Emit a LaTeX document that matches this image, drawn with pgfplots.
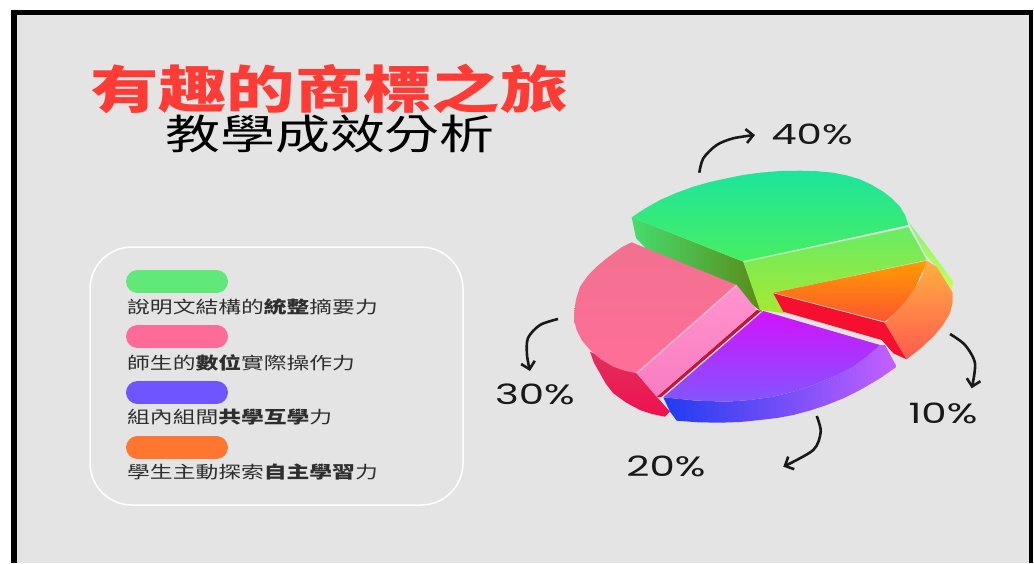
\documentclass[border=0pt]{standalone}
\usepackage{fontspec}
\usepackage{pgfplots}
\pgfplotsset{compat=1.18}
\usetikzlibrary{arrows.meta}
\setmainfont{Noto Sans CJK TC}
\newfontfamily\pct{Poppins}
\newcommand{\wide}[1]{\scalebox{1.34}[1]{#1}}
\newcommand{\widep}[1]{\scalebox{1.44}[1]{#1}}
\newcommand{\bb}[1]{\textbf{#1}}

\definecolor{bgray}{HTML}{E4E4E4}
\definecolor{pgreen}{HTML}{60E878}
\definecolor{ppink}{HTML}{FF6B98}
\definecolor{pblue}{HTML}{6E55FF}
\definecolor{porange}{HTML}{FF7630}
\definecolor{titlered}{HTML}{FF3B35}
\definecolor{gA}{HTML}{1CE59C}
\definecolor{gB}{HTML}{0CE880}
\definecolor{gC}{HTML}{48EE60}
\definecolor{gD}{HTML}{66EC66}
\definecolor{gE}{HTML}{A8E832}
\definecolor{gF}{HTML}{45DD6E}
\definecolor{gG}{HTML}{5A8A18}
\definecolor{gH}{HTML}{80F47A}
\definecolor{gI}{HTML}{C8FF50}
\definecolor{kA}{HTML}{F27090}
\definecolor{kB}{HTML}{FF82A8}
\definecolor{kC}{HTML}{FF6F98}
\definecolor{kD}{HTML}{FF93CF}
\definecolor{kE}{HTML}{F87DC0}
\definecolor{kF}{HTML}{E0305C}
\definecolor{kG}{HTML}{F01050}
\definecolor{kH}{HTML}{C01838}
\definecolor{vA}{HTML}{D212FF}
\definecolor{vB}{HTML}{8256FF}
\definecolor{vC}{HTML}{1F3CF0}
\definecolor{vD}{HTML}{4E5CFF}
\definecolor{vE}{HTML}{C560FF}
\definecolor{oA}{HTML}{FF9C00}
\definecolor{oB}{HTML}{FF5530}
\definecolor{oC}{HTML}{FFB040}
\definecolor{oD}{HTML}{FF9F50}
\definecolor{oE}{HTML}{FF5A50}
\definecolor{oF}{HTML}{F4102E}

\begin{document}
\begin{tikzpicture}
\begin{axis}[
    scale only axis,width=1034pt,height=563pt,
    xmin=0,xmax=1034,ymin=0,ymax=563,y dir=reverse,
    hide axis,clip=false,
    arr/.style={black!90,line width=2.6pt,smooth,-{Straight Barb[length=7pt,width=14pt,line width=2.6pt]}},
    face/.style={draw=none,shade},
    glow/.style={white,opacity=0.4,line width=1.5pt},
    ]
% page and frame
\addplot[fill=white,draw=none] coordinates {(0,0)(1034,0)(1034,563)(0,563)} -- cycle;
\addplot[fill=black,draw=none] coordinates {(11,563)(11,10)(1033,10)(1033,563)} -- cycle;
\addplot[fill=bgray,draw=none] coordinates {(16.5,563)(16.5,15)(1029,15)(1029,563)} -- cycle;

% legend box
\addplot[draw=white,line width=1.5pt,rounded corners=42pt] coordinates {(90,247)(463,247)(463,505)(90,505)} -- cycle;
\addplot[pgreen,line width=23pt,line cap=round] coordinates {(137.5,281.5)(216.5,281.5)};
\addplot[ppink,line width=23pt,line cap=round] coordinates {(137.5,336.5)(216.5,336.5)};
\addplot[pblue,line width=23pt,line cap=round] coordinates {(137.5,392.5)(216.5,392.5)};
\addplot[porange,line width=23pt,line cap=round] coordinates {(137.5,447.5)(216.5,447.5)};

% green slice, left side
\addplot[face,left color=gF,right color=gG] coordinates {
(631.7,217.3)(743.3,261.7)(762,312)(750,303)(736.7,288)(693,270)(648.3,251)(636,238)} -- cycle;
% green slice, outer strip
\addplot[face,top color=gH,bottom color=gI] coordinates {
(908.3,221.7)(930,250)(953.3,281.7)(951.7,290)(936.7,266.7)(926.7,256.7)} -- cycle;
% green slice, front
\addplot[face,top color=gD,bottom color=gE] coordinates {
(743.3,261.7)(908.3,226.7)(926.7,260)(773.3,292.7)(785,313.3)(760,310)} -- cycle;
% green slice, top
\addplot[face,top color=gA,middle color=gB,bottom color=gC] coordinates {
(631.7,217.3)(645,208.5)(660,200)(676,193)(693.3,186.7)(710,182)(726.7,178.3)(743,175)(760,172.7)
(780,171)(800,170.7)(817,171.2)(833.3,172.7)(847,175.5)(860,179.3)(872,185)(883.3,191.7)(892,198.5)
(900,206.7)(905,215)(908.3,225)(743.3,261.7)} -- cycle;
\addplot[glow] coordinates {(743.3,261.7)(908.3,226.7)};

% pink slice
\addplot[face,top color=kF,bottom color=kG] coordinates {
(590,351.7)(636.7,373.3)(656.7,396.7)(670,411.7)(665,416.7)(652,414)(640,410)(626,402.5)(613.3,393.3)
(606,384)(600,373.3)(594,363)} -- cycle;
\addplot[fill=kH,draw=none] coordinates {(656.7,396.7)(756.7,310)(761,311)(661,397.3)} -- cycle;
\addplot[face,top color=kD,bottom color=kE] coordinates {
(736.7,285)(756.7,310)(656.7,396.7)(636.7,373.3)} -- cycle;
\addplot[face,top color=kA,middle color=kB,bottom color=kC] coordinates {
(631.7,242.3)(736.7,285)(636.7,373.3)(624,370.5)(613.3,366.7)(600.5,359)(590,350)(582,340.5)(576.7,330)
(574.5,322)(574,313.3)(576,299.5)(580,286.7)(587.5,276)(596.7,266.7)(604.5,260)(613.3,253.3)(622,247)} -- cycle;
\addplot[glow] coordinates {(636.7,373.3)(736.7,285)};

% purple slice
\addplot[face,left color=vC,middle color=vD,right color=vE] coordinates {
(885,345)(896.7,366.7)(879,379)(860,390)(844,398)(826.7,405)(810,410.5)(793.3,415)(777,418)(760,420)
(740,422)(720,422.7)(698,422.3)(676.7,420.7)(670,411.7)(663.3,397.3)(695,400.5)(726.7,401.7)(750,400)
(773.3,396.7)(794,391.5)(813.3,385)(834,376.5)(853.3,366.7)(867,356.5)(880,345)} -- cycle;
\addplot[face,top color=vA,bottom color=vB] coordinates {
(763.3,311)(880,345)(867,356.5)(853.3,366.7)(834,376.5)(813.3,385)(794,391.5)(773.3,396.7)(750,400)
(726.7,401.7)(695,400.5)(663.3,397.3)} -- cycle;

% orange slice
\addplot[fill=oF,draw=none] coordinates {
(773.3,293.3)(885,322.7)(906.7,359.3)(893.3,353.3)(881.7,340)(783.3,311.7)} -- cycle;
\addplot[face,top color=oC,middle color=oD,bottom color=oE] coordinates {
(926.7,260.7)(936.7,266.7)(952.7,292.7)(952.5,303)(950,313.3)(943,325)(933.3,336.7)(921,348)(906.7,359.3)
(885,323.3)(897,311)(906.7,300)(915,288)(921.7,276.7)(925,267)} -- cycle;
\addplot[face,top color=oA,bottom color=oB] coordinates {
(773.3,292.7)(926.7,260.7)(925,267)(921.7,273.3)(915,288)(906.7,300)(897,311)(885,321.7)} -- cycle;

% arrows
\addplot[arr] coordinates {(699.3,172.7)(703.3,158.3)(716.7,145)(733.3,138.3)(755,135)};
\addplot[arr] coordinates {(950,334)(965,345)(975,363.3)(971.7,388.3)};
\addplot[arr] coordinates {(816.7,416)(820.7,431.7)(813.3,450)(783.3,466.7)};
\addplot[arr] coordinates {(558,319)(540,325)(528,338)(527,355)(530,371)};

% text
\node[anchor=west,inner sep=0pt,text=titlered,font=\fontsize{51}{51}\selectfont\bfseries] at (axis cs:90,89) {\wide{有趣的商標之旅}};
\node[anchor=west,inner sep=0pt,text=black,font=\fontsize{41}{41}\selectfont] at (axis cs:165,134) {\wide{教學成效分析}};
\node[anchor=west,inner sep=0pt,text=black!82,font=\fontsize{17}{17}\selectfont] at (axis cs:127,306.5) {\wide{說明文結構的\bb{統整}摘要力}};
\node[anchor=west,inner sep=0pt,text=black!82,font=\fontsize{17}{17}\selectfont] at (axis cs:127,362.5) {\wide{師生的\bb{數位}實際操作力}};
\node[anchor=west,inner sep=0pt,text=black!82,font=\fontsize{17}{17}\selectfont] at (axis cs:127,417) {\wide{組內組間\bb{共學互學}力}};
\node[anchor=west,inner sep=0pt,text=black!82,font=\fontsize{17}{17}\selectfont] at (axis cs:127,472.5) {\wide{學生主動探索\bb{自主學習}力}};
\node[text=black!90,font=\fontsize{28}{28}\selectfont\pct] at (axis cs:812,134) {\widep{40\%}};
\node[text=black!90,font=\fontsize{28}{28}\selectfont\pct] at (axis cs:535,394) {\widep{30\%}};
\node[text=black!90,font=\fontsize{28}{28}\selectfont\pct] at (axis cs:666,466) {\widep{20\%}};
\node[text=black!90,font=\fontsize{28}{28}\selectfont\pct] at (axis cs:943,413) {\widep{10\%}};
\end{axis}
\end{tikzpicture}
\end{document}
